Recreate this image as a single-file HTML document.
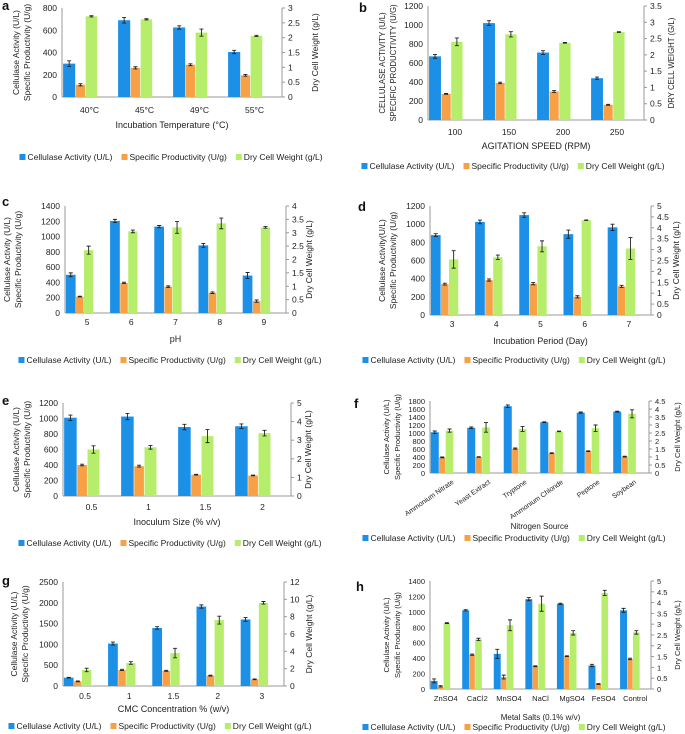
<!DOCTYPE html>
<html><head><meta charset="utf-8">
<style>
html,body{margin:0;padding:0;background:#fff;}
svg{display:block;font-family:"Liberation Sans",sans-serif;}
</style></head>
<body>
<svg id="fig" width="685" height="734" viewBox="0 0 685 734" xmlns="http://www.w3.org/2000/svg"></svg>
<script>
// ---- data ----
const aCats=["40°C","45°C","49°C","55°C"];
const aCA=[300,690,625,405];const aCAe=[25,25,15,15];
const aSP=[110,262,290,195];const aSPe=[10,10,8,8];
const aDCW=[2.72,2.62,2.17,2.06];const aDCWe=[0.02,0.02,0.12,0.02];
const aLeftTicks=[0,200,400,600,800];const aRightTicks=[0,0.5,1,1.5,2,2.5,3];

const bCats=["100","150","200","250"];
const bCA=[670,1020,710,440];const bCAe=[20,25,20,12];
const bSP=[275,390,300,160];const bSPe=[5,8,10,5];
const bDCW=[2.4,2.63,2.37,2.7];const bDCWe=[0.12,0.08,0.01,0.01];
const bLeftTicks=[0,200,400,600,800,1000,1200];const bRightTicks=[0,0.5,1,1.5,2,2.5,3,3.5];

const cCats=["5","6","7","8","9"];
const cCA=[500,1205,1130,885,490];const cCAe=[25,20,15,25,40];
const cSP=[215,395,345,265,155];const cSPe=[5,8,10,10,15];
const cDCW=[2.35,3.05,3.2,3.35,3.2];const cDCWe=[0.15,0.05,0.22,0.2,0.03];
const cLeftTicks=[0,200,400,600,800,1000,1200,1400];const cRightTicks=[0,0.5,1,1.5,2,2.5,3,3.5,4];

const dCats=["3","4","5","6","7"];
const dCA=[880,1025,1100,890,965];const dCAe=[15,20,25,45,35];
const dSP=[340,385,345,200,315];const dSPe=[10,12,12,12,12];
const dDCW=[2.55,2.65,3.15,4.35,3.05];const dDCWe=[0.4,0.1,0.25,0.01,0.5];
const dLeftTicks=[0,200,400,600,800,1000,1200];const dRightTicks=[0,0.5,1,1.5,2,2.5,3,3.5,4,4.5,5];

const eCats=["0.5","1","1.5","2"];
const eCA=[1010,1025,890,900];const eCAe=[35,40,35,30];
const eSP=[400,385,275,265];const eSPe=[10,12,5,5];
const eDCW=[2.5,2.62,3.22,3.38];const eDCWe=[0.2,0.1,0.35,0.15];
const eLeftTicks=[0,200,400,600,800,1000,1200];const eRightTicks=[0,1,2,3,4,5];

const fCats=["Ammonium Nitrate","Yeast Extract","Tryptone","Ammonium Chloride","Peptone","Soybean"];
const fCA=[1020,1130,1670,1270,1510,1535];const fCAe=[30,20,30,10,15,10];
const fSP=[390,400,610,495,545,410];const fSPe=[10,8,15,10,10,10];
const fDCW=[2.65,2.85,2.75,2.6,2.8,3.7];const fDCWe=[0.1,0.3,0.15,0.02,0.2,0.25];
const fLeftTicks=[0,200,400,600,800,1000,1200,1400,1600,1800];const fRightTicks=[0,0.5,1,1.5,2,2.5,3,3.5,4,4.5];

const gCats=["0.5","1","1.5","2","3"];
const gCA=[200,1020,1395,1910,1600];const gCAe=[10,35,30,40,45];
const gSP=[110,385,365,250,160];const gSPe=[10,15,12,10,8];
const gDCW=[1.85,2.65,3.8,7.6,9.6];const gDCWe=[0.2,0.15,0.55,0.45,0.15];
const gLeftTicks=[0,500,1000,1500,2000,2500];const gRightTicks=[0,2,4,6,8,10,12];

const hCats=["ZnSO4","CaCl2","MnSO4","NaCl","MgSO4","FeSO4","Control"];
const hCA=[105,1020,455,1165,1105,305,1020];const hCAe=[25,8,60,20,8,15,25];
const hSP=[35,445,155,295,425,65,390];const hSPe=[8,8,25,5,5,5,10];
const hDCW=[3.05,2.3,2.95,3.95,2.6,4.45,2.62];const hDCWe=[0.02,0.05,0.25,0.35,0.1,0.12,0.08];
const hLeftTicks=[0,200,400,600,800,1000,1200,1400];const hRightTicks=[0,0.5,1,1.5,2,2.5,3,3.5,4,4.5,5];

const COL={ca:"#1C8FE6",sp:"#F7A046",dcw:"#B6EE6C"};
const NS="http://www.w3.org/2000/svg";
const svg=document.getElementById("fig");
function mk(tag,attrs,parent){const e=document.createElementNS(NS,tag);for(const k in attrs)e.setAttribute(k,attrs[k]);(parent||svg).appendChild(e);return e;}

function panel(id,cfg,cats,ca,cae,sp,spe,dcw,dcwe,lt,rt){
  const g=mk("g",{});
  
  
  const L=cfg.x0,R=cfg.x1,T=cfg.top,B=cfg.bot;
  const lmax=lt[lt.length-1],rmax=rt[rt.length-1];
  const yL=v=>B-(v/lmax)*(B-T);
  const yR=v=>B-(v/rmax)*(B-T);
  const cw=(R-L)/cats.length;
  const fs=cfg.fs||8.5;
  const lab=mk("text",{x:cfg.lx,y:cfg.ly,"font-size":13,"font-weight":"bold",fill:"#111"},g);
  lab.textContent=id;
  
  
  const ax=mk("line",{x1:L,y1:B,x2:R,y2:B,stroke:"#999","stroke-width":1},g);
  
  
  const la=mk("line",{x1:L,y1:T,x2:L,y2:B,stroke:"#999","stroke-width":1},g);
  
  
  const ra=mk("line",{x1:R,y1:T,x2:R,y2:B,stroke:"#999","stroke-width":1},g);
  
  
  lt.forEach(v=>{const t=mk("text",{x:L-5,y:yL(v)+3,"font-size":fs,"text-anchor":"end",fill:"#222"},g);t.textContent=v;
    
    });
  rt.forEach(v=>{const t=mk("text",{x:R+6,y:yR(v)+3,"font-size":fs,fill:"#222"},g);t.textContent=v;
    mk("line",{x1:R,y1:yR(v),x2:R+3,y2:yR(v),stroke:"#999"},g);
    
    });
  const series=[[ca,cae,yL,COL.ca,0.02,0.22,"cellulase"],[sp,spe,yL,COL.sp,0.25,0.17,"productivity"],[dcw,dcwe,yR,COL.dcw,0.43,0.21,"dcw"]];
  cats.forEach((c,i)=>{
    series.forEach(s=>{
      const x=L+cw*(i+s[4]),w=cw*s[5],y=s[2](s[0][i]);
      const r=mk("rect",{x:x,y:y,width:w,height:B-y,fill:s[3]},g);
      
      
      const e1=s[2](s[0][i]+s[1][i]),e2=s[2](s[0][i]-s[1][i]),xc=x+w/2;
      mk("path",{d:`M${xc},${e1}V${e2}M${xc-2},${e1}H${xc+2}M${xc-2},${e2}H${xc+2}`,stroke:"#222","stroke-width":0.9,fill:"none"},g);
    });
    const cx=L+cw*(i+0.5);
    let t;
    if(cfg.rot){t=mk("text",{x:cx+6,y:B+10,"font-size":7,"text-anchor":"end",fill:"#222",transform:`rotate(-35 ${cx+6} ${B+10})`},g);}
    else t=mk("text",{x:cx,y:cfg.catY,"font-size":fs,"text-anchor":"middle",fill:"#222"},g);
    t.textContent=c;
    
    
  });
  const xt=mk("text",{x:(L+R)/2,y:cfg.titleY,"font-size":fs+0.5,"text-anchor":"middle",fill:"#222"},g);
  xt.textContent=cfg.xtitle;
  
  
  const my=(T+B)/2;
  cfg.ltitle.forEach((s,k)=>{const xx=cfg.ltx+k*11;const t=mk("text",{x:xx,y:my,"font-size":cfg.tfs||8.5,"text-anchor":"middle",fill:"#222",transform:`rotate(-90 ${xx} ${my})`},g);t.textContent=s;
    
    });
  const rx=cfg.rtx;
  const rtt=mk("text",{x:rx,y:my,"font-size":cfg.tfs||8.5,"text-anchor":"middle",fill:"#222",transform:`rotate(-90 ${rx} ${my})`},g);
  rtt.textContent=cfg.rtitle;
  
  
  const lg=mk("g",{},g);
  
  
  const names=["Cellulase Activity (U/L)","Specific Productivity (U/g)","Dry Cell Weight (g/L)"];
  const cols=[COL.ca,COL.sp,COL.dcw];
  let x=0;
  names.forEach((n,k)=>{
    const it=mk("g",{},lg);
    
    
    mk("rect",{x:x,y:cfg.legY-6,width:6,height:6,fill:cols[k]},it);
    const t=mk("text",{x:x+8,y:cfg.legY,"font-size":8.5,fill:"#222"},it);t.textContent=n;
    x+=8+t.getComputedTextLength()+9;
  });
  const tot=x-9;
  lg.setAttribute("transform",`translate(${cfg.legCx-tot/2},0)`);
}
const LT=["Cellulase Activity (U/L)","Specific Productivity (U/g)"];
panel("a",{x0:62,x1:282,top:8,bot:97,catY:113,titleY:128,legY:160,legCx:171,lx:2,ly:10,ltx:19,rtx:318,xtitle:"Incubation Temperature (°C)",ltitle:LT,rtitle:"Dry Cell Weight (g/L)"},aCats,aCA,aCAe,aSP,aSPe,aDCW,aDCWe,aLeftTicks,aRightTicks);
panel("b",{x0:428,x1:644,top:6,bot:120,catY:135,titleY:149,legY:169,legCx:513,lx:359,ly:12,ltx:385,rtx:674,tfs:7.8,xtitle:"AGITATION SPEED (RPM)",ltitle:["CELLULASE ACTIVITY (U/L)","SPECIFIC PRODUCTIVITY (U/G)"],rtitle:"DRY CELL WEIGHT (G/L)"},bCats,bCA,bCAe,bSP,bSPe,bDCW,bDCWe,bLeftTicks,bRightTicks);
panel("c",{x0:65,x1:286,top:206,bot:313,catY:325,titleY:342,legY:363,legCx:170,lx:2,ly:206,ltx:10,rtx:312,xtitle:"pH",ltitle:LT,rtitle:"Dry Cell Weight (g/L)"},cCats,cCA,cCAe,cSP,cSPe,cDCW,cDCWe,cLeftTicks,cRightTicks);
panel("d",{x0:430,x1:651,top:206,bot:315,catY:327,titleY:344,legY:363,legCx:514,lx:358,ly:211,ltx:385,rtx:679,xtitle:"Incubation Period (Day)",ltitle:["Cellulase Activity(U/L)","Specific Productivity (U/g)"],rtitle:"Dry Cell Weight (g/L)"},dCats,dCA,dCAe,dSP,dSPe,dDCW,dDCWe,dLeftTicks,dRightTicks);
panel("e",{x0:63,x1:291,top:403,bot:496,catY:510,titleY:525,legY:546,legCx:170,lx:2,ly:405,ltx:19,rtx:311,xtitle:"Inoculum Size (% v/v)",ltitle:LT,rtitle:"Dry Cell Weight (g/L)"},eCats,eCA,eCAe,eSP,eSPe,eDCW,eDCWe,eLeftTicks,eRightTicks);
panel("f",{x0:430,x1:649,top:401,bot:473,rot:true,titleY:529,legY:541,legCx:514,lx:354,ly:408,ltx:389,rtx:680,fs:7.5,tfs:7.5,xtitle:"Nitrogen Source",ltitle:LT,rtitle:"Dry Cell Weight (g/L)"},fCats,fCA,fCAe,fSP,fSPe,fDCW,fDCWe,fLeftTicks,fRightTicks);
panel("g",{x0:63,x1:284,top:582,bot:686,catY:699,titleY:712,legY:729,legCx:160,lx:2,ly:585,ltx:17,rtx:312,xtitle:"CMC Concentration % (w/v)",ltitle:LT,rtitle:"Dry Cell Weight (g/L)"},gCats,gCA,gCAe,gSP,gSPe,gDCW,gDCWe,gLeftTicks,gRightTicks);
panel("h",{x0:430,x1:651,top:581,bot:689,catY:701,titleY:720,legY:730,legCx:514,lx:356,ly:591,ltx:389,rtx:680,fs:7.5,tfs:7.5,xtitle:"Metal Salts (0.1% w/v)",ltitle:LT,rtitle:"Dry Cell Weight (g/L)"},hCats,hCA,hCAe,hSP,hSPe,hDCW,hDCWe,hLeftTicks,hRightTicks);
</script>
</body></html>
